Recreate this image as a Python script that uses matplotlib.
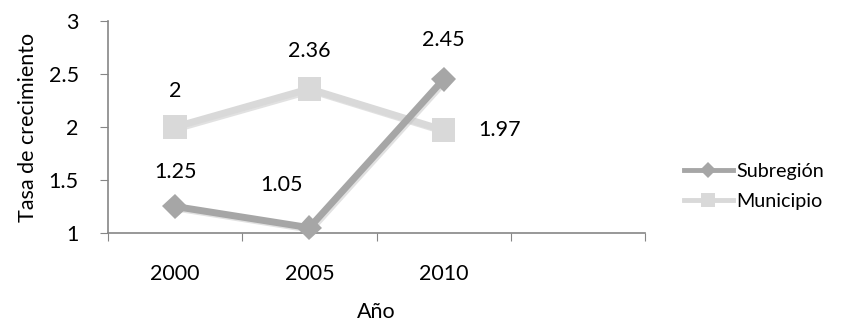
import matplotlib.pyplot as plt
import matplotlib.patheffects as pe

# ============================= Data =============================
years = ['2000', '2005', '2010']
subregion = [1.25, 1.05, 2.45]
municipio = [2.00, 2.36, 1.97]

# label offsets in points (dx, dy) for each data label
sub_offsets = [(0, 25), (-20, 31), (0, 28)]
mun_offsets = [(0, 26), (0, 27), (40, 0)]

FS = 15.5

plt.rcParams['font.family'] = ['Lato', 'DejaVu Sans']

fig = plt.figure(figsize=(8.41, 3.29), dpi=100)
ax = fig.add_axes([108 / 841, 1 - 233 / 329, 537 / 841, 212 / 329])

x = list(range(len(years)))
shadow = [pe.SimpleLineShadow(offset=(1.2, -1.2), shadow_color='#c4c4c4', alpha=0.5), pe.Normal()]

ax.plot(x, subregion, color='#a6a6a6', lw=5, marker='D', ms=13,
        markeredgewidth=0, label='Subregión', path_effects=shadow, zorder=3, clip_on=False)
ax.plot(x, municipio, color='#d9d9d9', lw=5, marker='s', ms=17,
        markeredgewidth=0, label='Municipio', path_effects=shadow, zorder=2, clip_on=False)

for xi, v, (dx, dy) in zip(x, subregion, sub_offsets):
    ax.annotate(f'{v:g}', (xi, v), xytext=(dx, dy), textcoords='offset points',
                ha='center', va='center', fontsize=FS)
for xi, v, (dx, dy) in zip(x, municipio, mun_offsets):
    ax.annotate(f'{v:g}', (xi, v), xytext=(dx, dy), textcoords='offset points',
                ha='center', va='center', fontsize=FS)

# ----- axes -----
ax.set_xlim(-0.5, 3.5)
ax.set_ylim(1, 3)
ax.set_yticks([1, 1.5, 2, 2.5, 3])
ax.set_yticklabels(['1', '1.5', '2', '2.5', '3'])
ax.set_xticks([-0.5, 0.5, 1.5, 2.5, 3.5])
ax.set_xticklabels([])
ax.set_xticks(x, minor=True)
ax.set_xticklabels(years, minor=True)
ax.tick_params(axis='x', which='minor', length=0, pad=22, labelsize=FS)
ax.tick_params(axis='x', which='major', length=6, color='#868686')
ax.tick_params(axis='y', length=6, color='#868686', labelsize=FS, pad=15)

for side in ['top', 'right']:
    ax.spines[side].set_visible(False)
for side in ['left', 'bottom']:
    ax.spines[side].set_color('#868686')
    ax.spines[side].set_linewidth(1.2)

ax.set_xlabel('Año', fontsize=FS, labelpad=13)
ax.set_ylabel('Tasa de crecimiento', fontsize=FS, labelpad=8)

leg = ax.legend(loc='center left', bbox_to_anchor=(1.05, 0.22), frameon=False,
                fontsize=14.2, handlelength=2.5, handletextpad=0.15, labelspacing=0.65,
                markerscale=0.6, borderaxespad=0.2)
for line in leg.get_lines():
    line.set_linewidth(3.5)
    line.set_path_effects([])

fig.savefig('out.png', dpi=100)
